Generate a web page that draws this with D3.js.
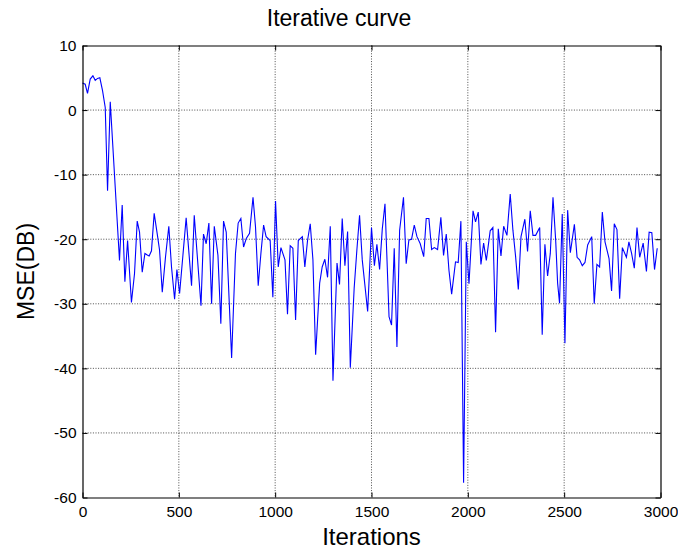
<!DOCTYPE html>
<meta charset="utf-8">
<style>

body {
  margin: 0;
  background: #fff;
  font-family: "Liberation Sans", Arial, Helvetica, sans-serif;
}

.axis text {
  font-size: 15.5px;
  fill: #000;
}

.axis path, .axis line {
  stroke: #000;
}

.grid line {
  stroke: #222;
  stroke-width: 0.8;
  stroke-dasharray: 1,1.6;
}

.curve {
  fill: none;
  stroke: #0000ff;
  stroke-width: 1.1;
}

</style>
<svg width="678" height="549"></svg>
<script src="https://cdn.jsdelivr.net/npm/d3@7"></script>
<script>

// iteration numbers
var iterations = [
  0, 14, 26, 40, 54, 66, 78, 90, 104, 118, 130, 144, 192, 206, 220, 234, 254, 270, 284, 296,
  310, 324, 334, 346, 358, 372, 389, 400, 414, 431, 448, 462, 478, 490, 504, 538, 566, 580, 615, 628,
  642, 656, 670, 684, 703, 718, 732, 746, 774, 794, 808, 822, 836, 850, 867, 885, 898, 912, 926, 940,
  953, 974, 988, 1002, 1016, 1030, 1051, 1064, 1078, 1092, 1106, 1120, 1141, 1154, 1168, 1182, 1196, 1210, 1231, 1244,
  1258, 1272, 1286, 1300, 1321, 1334, 1348, 1362, 1376, 1390, 1410, 1424, 1438, 1452, 1480, 1500, 1515, 1528, 1542, 1556,
  1570, 1591, 1604, 1618, 1632, 1646, 1666, 1680, 1694, 1708, 1722, 1736, 1753, 1771, 1784, 1798, 1812, 1826, 1843, 1860,
  1874, 1888, 1902, 1916, 1936, 1950, 1964, 1978, 1992, 2006, 2027, 2040, 2054, 2068, 2082, 2096, 2116, 2130, 2144, 2158,
  2172, 2186, 2203, 2220, 2234, 2248, 2262, 2276, 2296, 2310, 2324, 2338, 2352, 2373, 2386, 2400, 2414, 2428, 2442, 2456,
  2466, 2476, 2490, 2504, 2518, 2532, 2553, 2567, 2580, 2594, 2608, 2622, 2643, 2656, 2670, 2684, 2698, 2712, 2733, 2746,
  2760, 2774, 2788, 2802, 2823, 2836, 2850, 2864, 2878, 2892, 2910, 2927, 2941, 2955, 2969, 2983
];

// MSE in dB at each of those iterations
var mse = [
  4.2, 4.0, 2.6, 4.8, 5.3, 4.6, 4.9, 5.0, 3.0, 0.4, -12.5, 1.3, -23.3, -14.7, -26.6, -20.2, -29.8, -25.3, -17.2, -18.9,
  -25.1, -22.2, -22.4, -22.6, -21.8, -16.0, -19.4, -21.7, -28.2, -22.7, -18.0, -24.3, -29.3, -24.7, -28.4, -16.7, -27.2, -16.3, -30.3, -19.2,
  -20.7, -17.5, -30.0, -18.0, -22.5, -33.1, -17.2, -18.9, -38.4, -22.2, -17.5, -16.8, -21.2, -19.9, -19.1, -13.5, -18.1, -27.2, -22.2, -17.8,
  -19.6, -20.2, -29.0, -14.1, -24.3, -21.3, -23.2, -31.6, -21.0, -21.4, -32.5, -20.2, -19.6, -24.3, -20.2, -17.6, -23.2, -37.9, -26.8, -24.3,
  -23.1, -25.9, -18.0, -41.9, -23.7, -27.0, -16.8, -24.1, -18.8, -39.9, -27.6, -21.7, -16.3, -23.2, -31.2, -18.2, -24.1, -20.8, -24.7, -18.4,
  -14.5, -32.0, -33.3, -21.4, -36.7, -18.6, -13.5, -23.8, -20.1, -20.0, -17.8, -19.6, -20.7, -22.7, -16.8, -16.8, -21.6, -21.3, -21.6, -16.6,
  -22.5, -19.2, -24.8, -28.5, -23.5, -23.6, -17.2, -57.7, -20.4, -26.9, -15.6, -17.3, -15.8, -23.9, -20.6, -23.3, -18.7, -18.2, -34.4, -18.4,
  -22.6, -18.0, -19.4, -13.0, -18.6, -22.7, -27.8, -19.6, -16.9, -21.9, -15.6, -19.4, -19.4, -18.2, -34.8, -20.8, -25.7, -22.2, -13.5, -20.2,
  -26.8, -29.9, -16.1, -36.1, -15.5, -22.1, -17.7, -22.8, -23.2, -24.1, -23.6, -20.9, -19.6, -30.0, -23.9, -24.3, -15.8, -20.4, -23.0, -28.0,
  -17.6, -18.5, -29.2, -21.3, -22.8, -20.4, -22.2, -24.5, -18.2, -22.8, -20.6, -25.0, -18.9, -19.0, -24.7, -21.4
];

var xTicks = [0, 500, 1000, 1500, 2000, 2500, 3000];
var yTicks = [-60, -50, -40, -30, -20, -10, 0, 10];

var svg = d3.select("svg"),
    margin = {top: 45.5, right: 17.5, bottom: 51.5, left: 82.5},
    width = +svg.attr("width") - margin.left - margin.right,
    height = +svg.attr("height") - margin.top - margin.bottom;

var x = d3.scaleLinear()
    .domain([0, 3000])
    .range([0, width]);

var y = d3.scaleLinear()
    .domain([-60, 10])
    .range([height, 0]);

// plain hyphen for negatives, like the original
var plain = function(d) { return String(d); };

var g = svg.append("g")
    .attr("transform", "translate(" + margin.left + "," + margin.top + ")");

// dotted grid, inner ticks only (the box covers the edges)
var grid = g.append("g").attr("class", "grid");

grid.selectAll(".vgrid")
  .data(xTicks.slice(1, -1))
  .enter().append("line")
    .attr("x1", function(d) { return x(d); })
    .attr("x2", function(d) { return x(d); })
    .attr("y1", 0)
    .attr("y2", height);

grid.selectAll(".hgrid")
  .data(yTicks.slice(1, -1))
  .enter().append("line")
    .attr("x1", 0)
    .attr("x2", width)
    .attr("y1", function(d) { return y(d); })
    .attr("y2", function(d) { return y(d); });

var line = d3.line()
    .x(function(d, i) { return x(iterations[i]); })
    .y(function(d) { return y(d); });

g.append("path")
    .datum(mse)
    .attr("class", "curve")
    .attr("d", line);

// box with inward ticks on all four sides
g.append("g")
    .attr("class", "axis")
    .attr("transform", "translate(0," + height + ")")
    .call(d3.axisBottom(x).tickValues(xTicks).tickSizeInner(-5).tickSizeOuter(0).tickPadding(8).tickFormat(plain));

g.append("g")
    .attr("class", "axis")
    .call(d3.axisLeft(y).tickValues(yTicks).tickSizeInner(-5).tickSizeOuter(0).tickPadding(6).tickFormat(plain));

g.append("g")
    .attr("class", "axis")
    .call(d3.axisTop(x).tickValues(xTicks).tickSizeInner(-5).tickSizeOuter(0).tickFormat(""));

g.append("g")
    .attr("class", "axis")
    .attr("transform", "translate(" + width + ",0)")
    .call(d3.axisRight(y).tickValues(yTicks).tickSizeInner(-5).tickSizeOuter(0).tickFormat(""));

svg.selectAll(".axis .domain").attr("stroke-width", 1.2);

svg.append("text")
    .attr("x", 339)
    .attr("y", 26)
    .attr("text-anchor", "middle")
    .style("font-size", "23px")
    .text("Iterative curve");

svg.append("text")
    .attr("x", margin.left + width / 2)
    .attr("y", 545)
    .attr("text-anchor", "middle")
    .style("font-size", "24px")
    .text("Iterations");

svg.append("text")
    .attr("transform", "translate(34," + (margin.top + height / 2) + ") rotate(-90)")
    .attr("text-anchor", "middle")
    .style("font-size", "23px")
    .text("MSE(DB)");

</script>
